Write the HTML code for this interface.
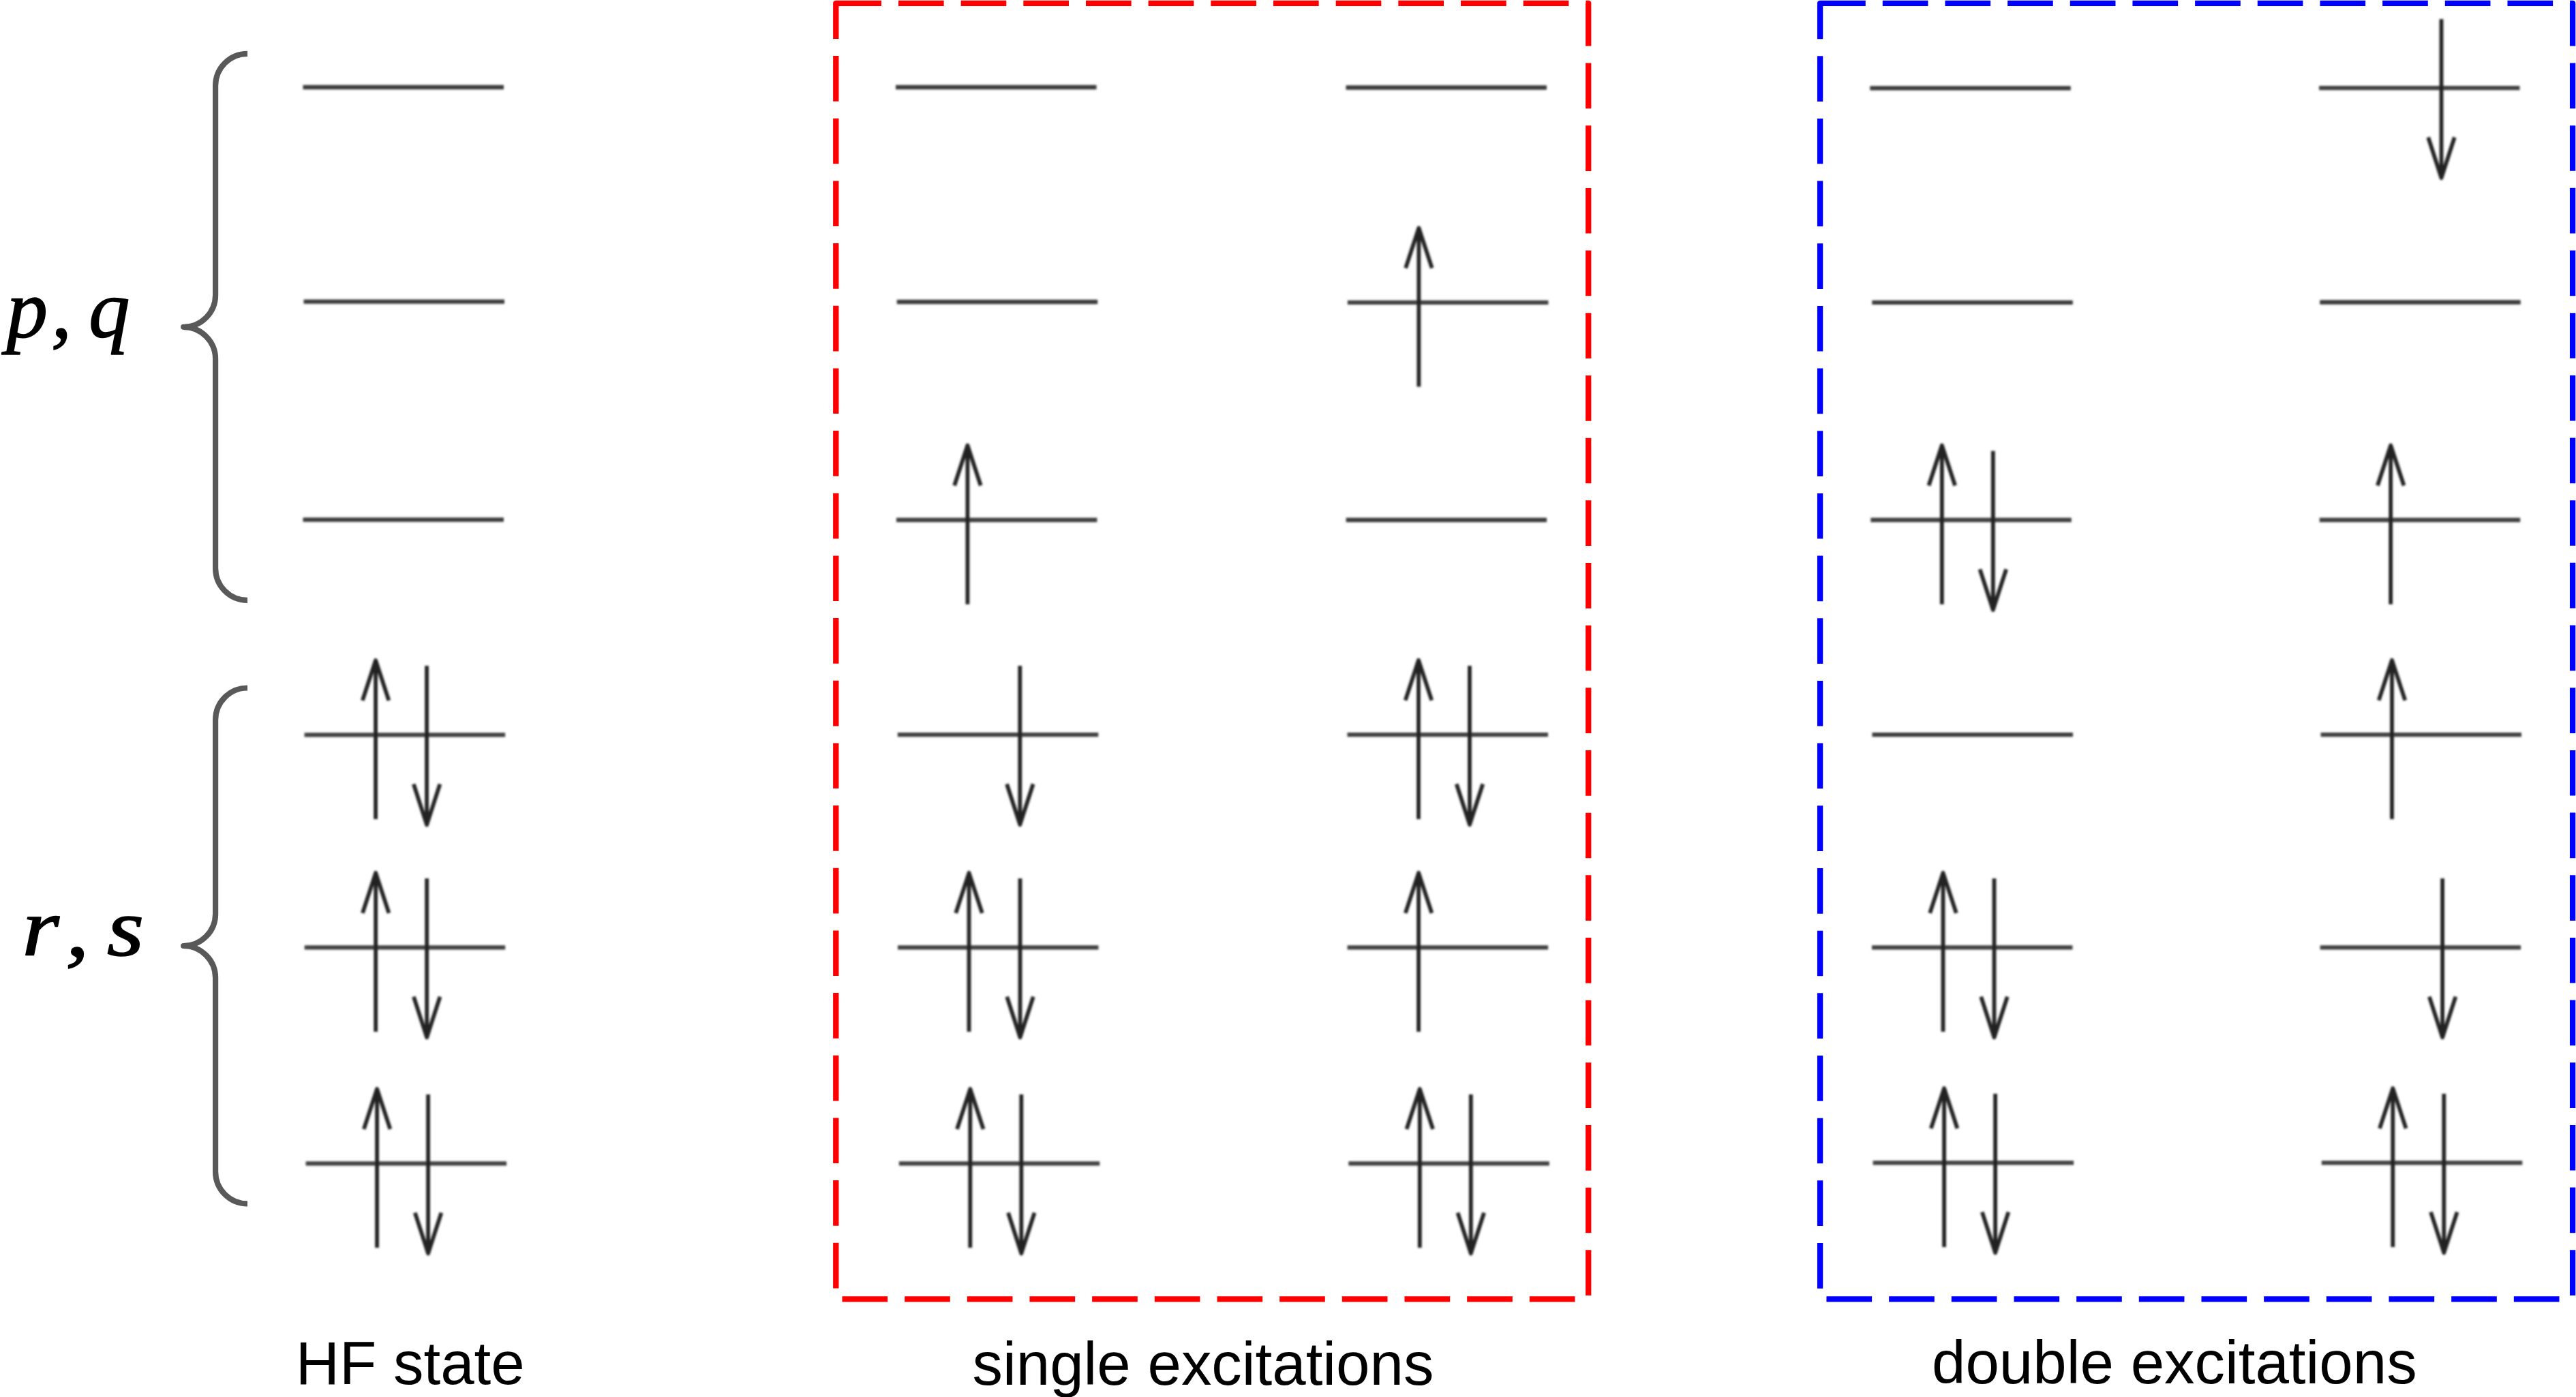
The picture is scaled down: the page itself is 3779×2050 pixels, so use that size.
<!DOCTYPE html>
<html lang="en">
<head>
<meta charset="utf-8">
<title>HF state, single and double excitations</title>
<style>
html,body{margin:0;padding:0;background:#fff;}
body{width:3779px;height:2050px;overflow:hidden;}
svg{display:block;}
.lab{font-family:"Liberation Sans",Arial,Helvetica,sans-serif;font-size:88.9px;fill:#000;}
.math{font-family:"Liberation Serif","Times New Roman",serif;font-style:italic;font-size:121px;fill:#000;stroke:#000;stroke-width:1.5px;stroke-linejoin:round;}
</style>
</head>
<body>
<svg width="3779" height="2050" viewBox="0 0 3779 2050">
<rect x="0" y="0" width="3779" height="2050" fill="#ffffff"/>

<path d="M1226.3 4.8H2330.2V1906.3H1226.3Z" fill="none" stroke="#ff0000" stroke-width="8.33" stroke-dasharray="66.67 25" stroke-linejoin="round"/>
<path d="M2670.1 4.8H3774.1V1906.3H2670.1Z" fill="none" stroke="#0000ff" stroke-width="8.33" stroke-dasharray="66.67 25" stroke-linejoin="round"/>
<path d="M363 78.8A46.9 46.9 0 0 0 316.1 125.7V432.9A46.9 46.9 0 0 1 269.2 479.8A46.9 46.9 0 0 1 316.1 526.7V833.9A46.9 46.9 0 0 0 363 880.8" stroke="#595959" stroke-width="8.2" fill="none" stroke-linejoin="round"/>
<path d="M363 1009.5A46.9 46.9 0 0 0 316.1 1056.4V1341.0A46.9 46.9 0 0 1 269.2 1388.0A46.9 46.9 0 0 1 316.1 1434.9V1719.5A46.9 46.9 0 0 0 363 1766.4" stroke="#595959" stroke-width="8.2" fill="none" stroke-linejoin="round"/>
<defs><filter id="soft" filterUnits="userSpaceOnUse" x="0" y="0" width="3779" height="2050"><feGaussianBlur stdDeviation="1.5"/></filter></defs>
<g fill="none" stroke-linejoin="round" filter="url(#soft)">
<g id="col-HF">
<path d="M444.5 128.0H739.0" stroke="#3a3a3a" stroke-width="6.3"/>
<path d="M445.5 442.6H740.0" stroke="#3a3a3a" stroke-width="6.3"/>
<path d="M444.5 762.7H739.0" stroke="#3a3a3a" stroke-width="6.3"/>
<path d="M446.6 1078.4H741.1" stroke="#404040" stroke-width="6.3"/>
<path d="M551.1 1202.1V968.9M531.8 1027.9L551.1 968.9L570.4 1027.9" stroke="#222222" stroke-width="5.8"/>
<path d="M626.1 977.1V1210.4M606.8 1150.7L626.1 1210.4L645.4 1150.7" stroke="#222222" stroke-width="5.8"/>
<path d="M446.7 1390.3H741.2" stroke="#404040" stroke-width="6.3"/>
<path d="M551.2 1514.0V1280.8M531.9 1339.8L551.2 1280.8L570.5 1339.8" stroke="#222222" stroke-width="5.8"/>
<path d="M626.2 1289.0V1522.3M606.9 1462.6L626.2 1522.3L645.5 1462.6" stroke="#222222" stroke-width="5.8"/>
<path d="M448.6 1707.4H743.1" stroke="#404040" stroke-width="6.3"/>
<path d="M553.1 1831.1V1597.9M533.8 1656.9L553.1 1597.9L572.4 1656.9" stroke="#222222" stroke-width="5.8"/>
<path d="M628.1 1606.1V1839.4M608.8 1779.7L628.1 1839.4L647.4 1779.7" stroke="#222222" stroke-width="5.8"/>
</g>
<g id="col-S1">
<path d="M1314.0 128.0H1608.5" stroke="#3a3a3a" stroke-width="6.3"/>
<path d="M1315.7 443.0H1610.2" stroke="#3a3a3a" stroke-width="6.3"/>
<path d="M1314.9 763.0H1609.4" stroke="#404040" stroke-width="6.3"/>
<path d="M1419.4 886.7V653.5M1400.1 712.5L1419.4 653.5L1438.7 712.5" stroke="#222222" stroke-width="5.8"/>
<path d="M1316.8 1078.2H1611.3" stroke="#404040" stroke-width="6.3"/>
<path d="M1496.3 976.9V1210.2M1477.0 1150.5L1496.3 1210.2L1515.6 1150.5" stroke="#222222" stroke-width="5.8"/>
<path d="M1317.0 1390.3H1611.5" stroke="#404040" stroke-width="6.3"/>
<path d="M1421.5 1514.0V1280.8M1402.2 1339.8L1421.5 1280.8L1440.8 1339.8" stroke="#222222" stroke-width="5.8"/>
<path d="M1496.5 1289.0V1522.3M1477.2 1462.6L1496.5 1522.3L1515.8 1462.6" stroke="#222222" stroke-width="5.8"/>
<path d="M1318.8 1707.4H1613.3" stroke="#404040" stroke-width="6.3"/>
<path d="M1423.3 1831.1V1597.9M1404.0 1656.9L1423.3 1597.9L1442.6 1656.9" stroke="#222222" stroke-width="5.8"/>
<path d="M1498.3 1606.1V1839.4M1479.0 1779.7L1498.3 1839.4L1517.6 1779.7" stroke="#222222" stroke-width="5.8"/>
</g>
<g id="col-S2">
<path d="M1974.5 128.5H2269.0" stroke="#3a3a3a" stroke-width="6.3"/>
<path d="M1976.9 443.9H2271.4" stroke="#404040" stroke-width="6.3"/>
<path d="M2081.4 567.6V334.4M2062.1 393.4L2081.4 334.4L2100.7 393.4" stroke="#222222" stroke-width="5.8"/>
<path d="M1974.6 763.0H2269.1" stroke="#3a3a3a" stroke-width="6.3"/>
<path d="M1976.5 1078.2H2271.0" stroke="#404040" stroke-width="6.3"/>
<path d="M2081.0 1201.9V968.7M2061.7 1027.7L2081.0 968.7L2100.3 1027.7" stroke="#222222" stroke-width="5.8"/>
<path d="M2156.0 976.9V1210.2M2136.7 1150.5L2156.0 1210.2L2175.3 1150.5" stroke="#222222" stroke-width="5.8"/>
<path d="M1976.6 1390.3H2271.1" stroke="#404040" stroke-width="6.3"/>
<path d="M2081.1 1514.0V1280.8M2061.8 1339.8L2081.1 1280.8L2100.4 1339.8" stroke="#222222" stroke-width="5.8"/>
<path d="M1978.3 1707.4H2272.8" stroke="#404040" stroke-width="6.3"/>
<path d="M2082.8 1831.1V1597.9M2063.5 1656.9L2082.8 1597.9L2102.1 1656.9" stroke="#222222" stroke-width="5.8"/>
<path d="M2157.8 1606.1V1839.4M2138.5 1779.7L2157.8 1839.4L2177.1 1779.7" stroke="#222222" stroke-width="5.8"/>
</g>
<g id="col-D1">
<path d="M2743.3 129.4H3037.8" stroke="#3a3a3a" stroke-width="6.3"/>
<path d="M2746.3 443.9H3040.8" stroke="#3a3a3a" stroke-width="6.3"/>
<path d="M2744.3 763.0H3038.8" stroke="#404040" stroke-width="6.3"/>
<path d="M2848.8 886.7V653.5M2829.5 712.5L2848.8 653.5L2868.1 712.5" stroke="#222222" stroke-width="5.8"/>
<path d="M2923.8 661.7V895.0M2904.5 835.3L2923.8 895.0L2943.1 835.3" stroke="#222222" stroke-width="5.8"/>
<path d="M2746.5 1078.2H3041.0" stroke="#3a3a3a" stroke-width="6.3"/>
<path d="M2746.0 1390.3H3040.5" stroke="#404040" stroke-width="6.3"/>
<path d="M2850.5 1514.0V1280.8M2831.2 1339.8L2850.5 1280.8L2869.8 1339.8" stroke="#222222" stroke-width="5.8"/>
<path d="M2925.5 1289.0V1522.3M2906.2 1462.6L2925.5 1522.3L2944.8 1462.6" stroke="#222222" stroke-width="5.8"/>
<path d="M2747.6 1706.4H3042.1" stroke="#404040" stroke-width="6.3"/>
<path d="M2852.1 1830.1V1596.9M2832.8 1655.9L2852.1 1596.9L2871.4 1655.9" stroke="#222222" stroke-width="5.8"/>
<path d="M2927.1 1605.1V1838.4M2907.8 1778.7L2927.1 1838.4L2946.4 1778.7" stroke="#222222" stroke-width="5.8"/>
</g>
<g id="col-D2">
<path d="M3402.0 129.2H3696.5" stroke="#404040" stroke-width="6.3"/>
<path d="M3581.5 27.9V261.2M3562.2 201.5L3581.5 261.2L3600.8 201.5" stroke="#222222" stroke-width="5.8"/>
<path d="M3403.2 443.5H3697.7" stroke="#3a3a3a" stroke-width="6.3"/>
<path d="M3402.7 763.0H3697.2" stroke="#404040" stroke-width="6.3"/>
<path d="M3507.2 886.7V653.5M3487.9 712.5L3507.2 653.5L3526.5 712.5" stroke="#222222" stroke-width="5.8"/>
<path d="M3404.5 1078.2H3699.0" stroke="#404040" stroke-width="6.3"/>
<path d="M3509.0 1201.9V968.7M3489.7 1027.7L3509.0 968.7L3528.3 1027.7" stroke="#222222" stroke-width="5.8"/>
<path d="M3403.6 1390.3H3698.1" stroke="#404040" stroke-width="6.3"/>
<path d="M3583.1 1289.0V1522.3M3563.8 1462.6L3583.1 1522.3L3602.4 1462.6" stroke="#222222" stroke-width="5.8"/>
<path d="M3405.8 1706.4H3700.3" stroke="#404040" stroke-width="6.3"/>
<path d="M3510.3 1830.1V1596.9M3491.0 1655.9L3510.3 1596.9L3529.6 1655.9" stroke="#222222" stroke-width="5.8"/>
<path d="M3585.3 1605.1V1838.4M3566.0 1778.7L3585.3 1838.4L3604.6 1778.7" stroke="#222222" stroke-width="5.8"/>
</g>
</g>
<text class="math" y="493.8"><tspan x="9.6">p</tspan><tspan x="75">,</tspan> <tspan x="130.1">q</tspan></text>
<text class="math" y="1402" transform="scale(1.16,1)"><tspan x="27.8">r</tspan><tspan x="82.7">,</tspan> <tspan x="135.2">s</tspan></text>
<text class="lab" x="433.8" y="2030.9">HF state</text>
<text class="lab" x="1426.5" y="2031.5">single excitations</text>
<text class="lab" x="2834" y="2029.7">double excitations</text>
</svg>
</body>
</html>
